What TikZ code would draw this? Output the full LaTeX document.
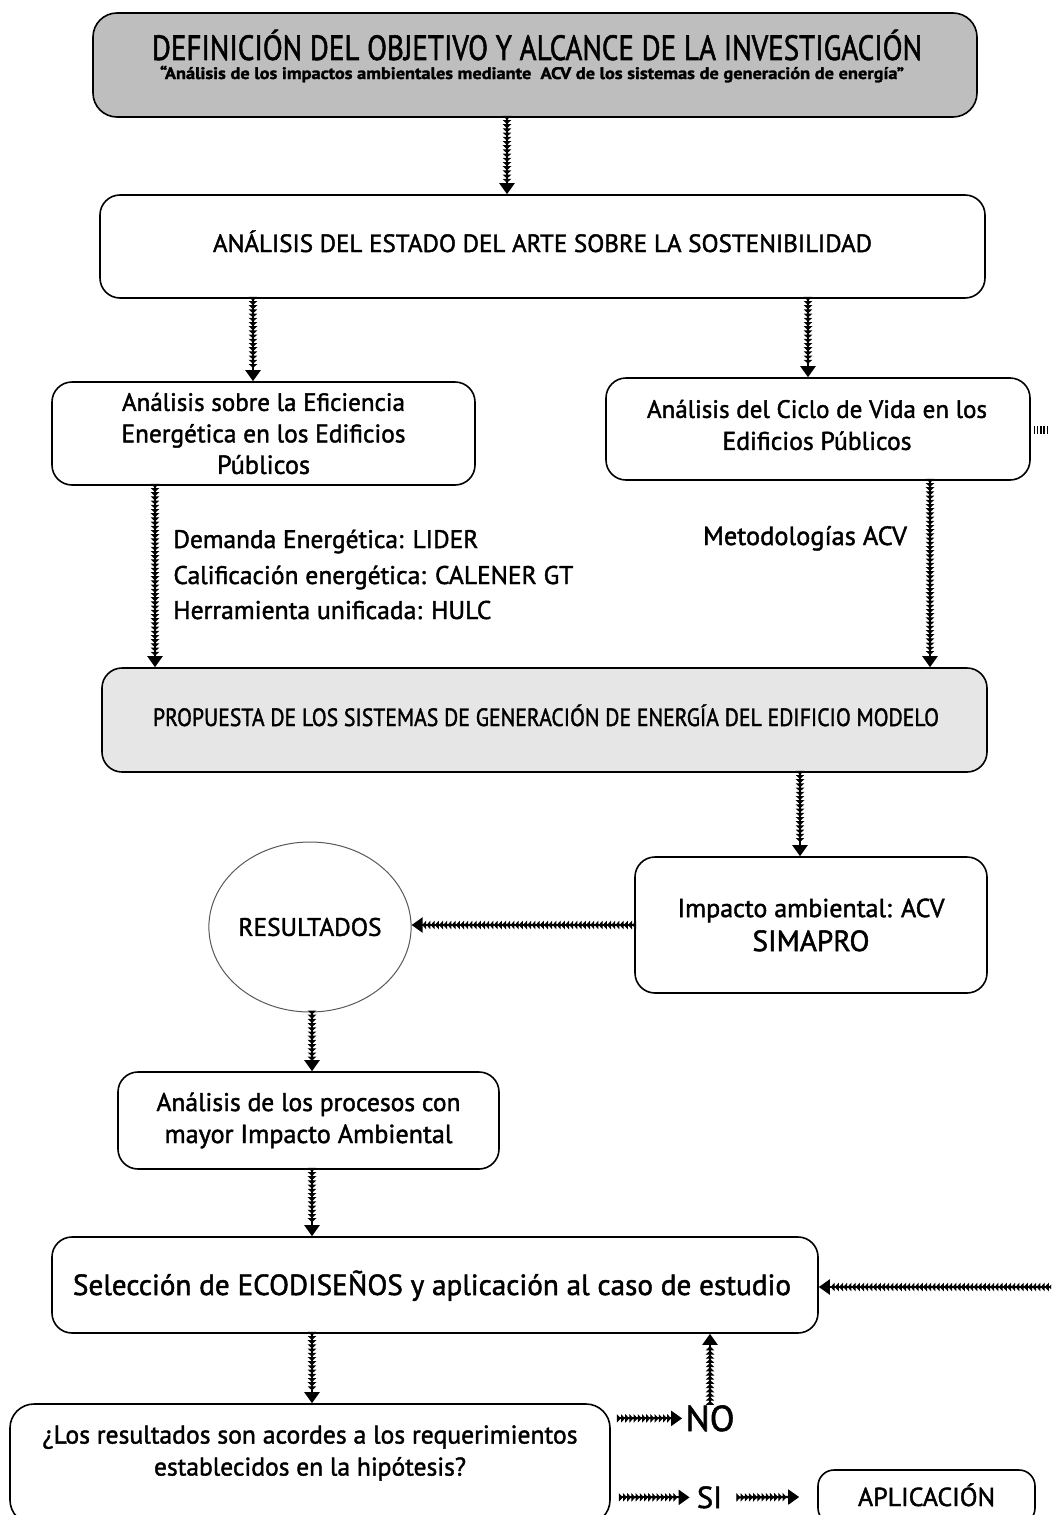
\documentclass[tikz,border=0pt]{standalone}
\usepackage{fontspec}
\setmainfont{PT Sans}[FakeBold=1.6]
\usetikzlibrary{arrows.meta,decorations.markings,shapes.geometric,calc}
\newcommand\fw[2]{\resizebox{#1}{!}{#2}}
\newcommand\fc[2]{\resizebox{#1}{\height}{#2}}
\newcommand\fsz[1]{\fontsize{#1}{#1}\selectfont}
\definecolor{topgray}{RGB}{190,190,190}
\definecolor{propgray}{RGB}{230,230,230}
\begin{document}
\begin{tikzpicture}[x=0.5pt,y=-0.5pt,
  box/.style={draw=black, line width=0.8pt, rounded corners=10pt, inner sep=0pt, align=center},
  txt/.style={inner sep=0pt, align=center},
  lbl/.style={inner sep=0pt, anchor=west},
  chain/.style={line width=1.1pt, draw, -{Triangle[length=5.5pt,width=7.5pt]},
    postaction={decorate},
    decoration={markings, mark=between positions 1pt and -5pt step 2.1pt with {\arrow{Triangle[length=2pt,width=4.2pt]}}}},
  stub/.style={line width=4pt, dash pattern=on 0.7pt off 0.9pt}]
\useasboundingbox (0,0) rectangle (1051,1515);
\clip (0,0) rectangle (1051,1515);
\fill[white] (0,0) rectangle (1051,1515);

% x positions for connectors
\coordinate (xa) at (507,0);
\coordinate (xb) at (253,0);
\coordinate (xc) at (808,0);
\coordinate (xd) at (155,0);
\coordinate (xe) at (930,0);
\coordinate (xf) at (800,0);
\coordinate (xg) at (312,0);

% boxes
\node[box, fill=topgray, rounded corners=12pt, minimum width=442pt, minimum height=52pt] (top) at (535,65) {};
\node[txt, anchor=base] (title) at (537,60) {\fsz{17.5}\fc{385pt}{DEFINICIÓN DEL OBJETIVO Y ALCANCE DE LA INVESTIGACIÓN}};
\node[txt, anchor=base] (subtitle) at (532,79) {\fsz{8.3}\bfseries\fc{372pt}{“Análisis de los impactos ambientales mediante~ ACV de los sistemas de generación de energía”}};

\node[box, minimum width=442.5pt, minimum height=51.5pt] (box2) at (542.5,246.5) {};
\node[txt, anchor=base] (box2t) at (542.5,252) {\fsz{13.5}\fw{329.5pt}{ANÁLISIS DEL ESTADO DEL ARTE SOBRE LA SOSTENIBILIDAD}};

\node[box, minimum width=211.5pt, minimum height=51.5pt, font=\fontsize{11}{15.75}\selectfont] (box3) at (263.5,433.5)
  {\fw{141.5pt}{Análisis sobre la Eficiencia}\\ \fw{142pt}{Energética en los Edificios}\\ \fw{46.5pt}{Públicos}};

\node[box, minimum width=212pt, minimum height=51pt] (box4) at (818,429) {};
\node[txt, font=\fontsize{11}{16}\selectfont] (box4t) at (817,425)
  {\fw{170pt}{Análisis del Ciclo de Vida en los}\\ \fw{94.5pt}{Edificios Públicos}};

\node[box, fill=propgray, minimum width=442.5pt, minimum height=52pt] (box5) at (544.5,720) {};
\node[txt, anchor=base] (box5t) at (546,726) {\fsz{12.5}\fc{393pt}{PROPUESTA DE LOS SISTEMAS DE GENERACIÓN DE ENERGÍA DEL EDIFICIO MODELO}};

\node[box, minimum width=176pt, minimum height=68pt, font=\fontsize{12}{17}\selectfont] (box6) at (811,925)
  {\fw{133.5pt}{Impacto ambiental: ACV}\\ \fsz{14}\fw{58.5pt}{SIMAPRO}};

\node[ellipse, draw=black!65, line width=0.5pt, minimum width=95pt, minimum height=85pt, inner sep=0pt] (circ) at (310,927)
  {\fsz{13}\fw{71.5pt}{RESULTADOS}};

\node[box, minimum width=190.5pt, minimum height=48.5pt, font=\fontsize{11.5}{16}\selectfont] (box7) at (308.5,1120.5)
  {\fw{152pt}{Análisis de los procesos con}\\ \fw{144pt}{mayor Impacto Ambiental}};

\node[box, minimum width=383pt, minimum height=48pt] (box8) at (435,1285) {};
\node[txt, anchor=base] (box8t) at (432,1295) {\fsz{16.5}\fw{359pt}{Selección de ECODISEÑOS y aplicación al caso de estudio}};

\node[box, rounded corners=12pt, minimum width=300pt, minimum height=60pt] (box9) at (310,1464) {};
\node[txt, font=\fontsize{12.5}{16}\selectfont] (q) at (310,1453)
  {\fw{267.5pt}{¿Los resultados son acordes a los requerimientos}\\ \fw{156pt}{establecidos en la hipótesis?}};

\node[box, rounded corners=8pt, minimum width=108.5pt, minimum height=27pt] (apl) at (926.5,1497) {};
\node[txt, anchor=base] (aplt) at (926.5,1506) {\fsz{12}\fw{68.5pt}{APLICACIÓN}};

\node[inner sep=0pt, anchor=base] (no) at (710,1431) {\fsz{21}\fw{24.5pt}{NO}};
\node[inner sep=0pt, anchor=base] (si) at (709.5,1508) {\fsz{21}\fw{12.5pt}{SI}};

% labels
\node[lbl, anchor=base west] (l1) at (173,548) {\fsz{12}\fw{152.5pt}{Demanda Energética: LIDER}};
\node[lbl, anchor=base west] (l2) at (173,584) {\fsz{12}\fw{200pt}{Calificación energética: CALENER GT}};
\node[lbl, anchor=base west] (l3) at (173,619) {\fsz{12}\fw{159pt}{Herramienta unificada: HULC}};
\node[txt, anchor=base] (l4) at (805,545) {\fsz{12}\fw{102pt}{Metodologías ACV}};

% connectors
\draw[chain] (top.south -| xa) -- (box2.north -| xa);
\draw[chain] (box2.south -| xb) -- (box3.north -| xb);
\draw[chain] (box2.south -| xc) -- (box4.north -| xc);
\draw[chain] (box3.south -| xd) -- (box5.north -| xd);
\draw[chain] (box4.south -| xe) -- (box5.north -| xe);
\draw[chain] (box5.south -| xf) -- (box6.north -| xf);
\draw[chain] (box6.west) -- (box6.west -| circ.east);
\draw[chain] (circ.south -| xg) -- (box7.north -| xg);
\draw[chain] (box7.south -| xg) -- (box8.north -| xg);
\coordinate (rin) at (1051,1287);
\draw[chain] (rin) -- (box8.east |- rin);
\draw[chain] (box8.south -| xg) -- (box9.north -| xg);
\draw[chain] ($(no.north)+(0,-2)$) -- (box8.south -| no.north);
\draw[chain] ($(box9.east |- no.west)+(8,0)$) -- ($(no.west)+(-3,0)$);
\draw[chain] ($(box9.east |- si.west)+(10,0)$) -- ($(si.west)+(-7,0)$);
\draw[chain] ($(si.east)+(16,0)$) -- ($(apl.west)+(-18,0)$);
\coordinate (stubend) at (1048,430);
\draw[stub] ($(box4.east)+(3,1)$) -- (stubend);
\end{tikzpicture}
\end{document}
